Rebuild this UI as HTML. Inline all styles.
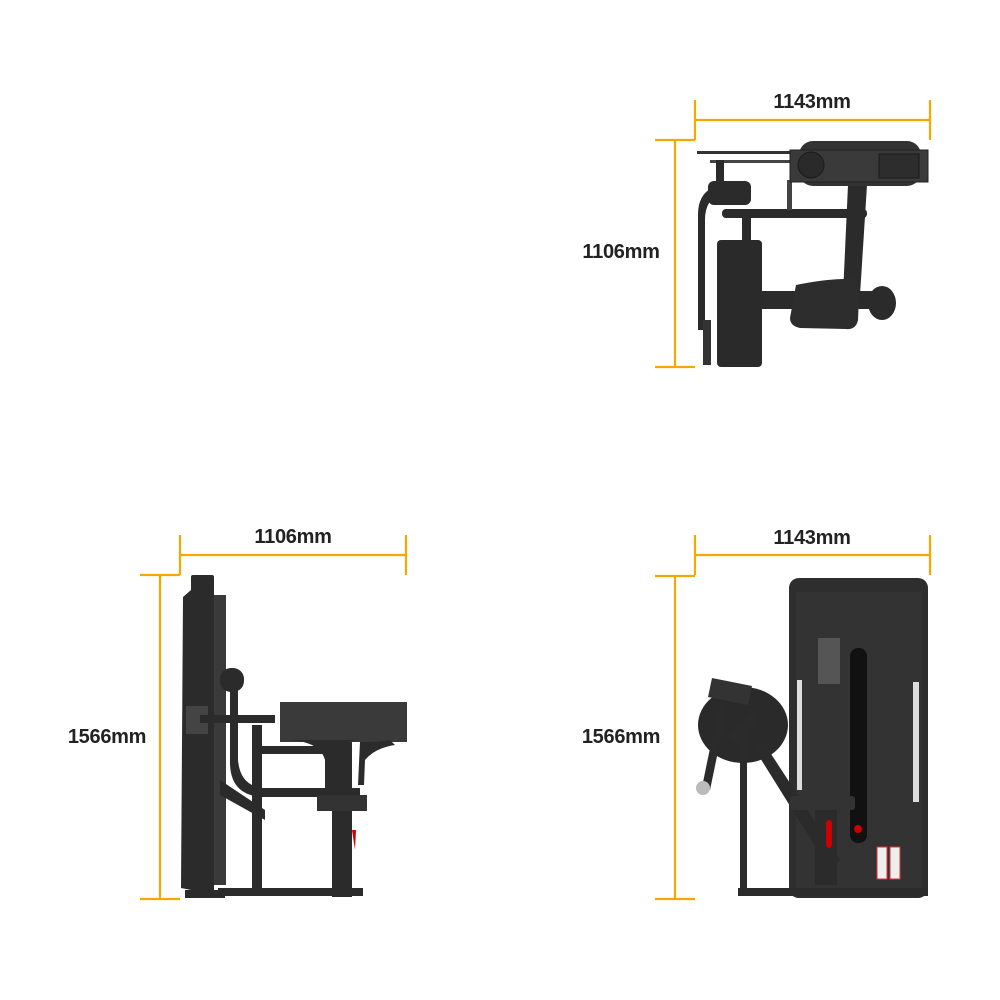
<!DOCTYPE html>
<html><head><style>
html,body{margin:0;padding:0;background:#fff;}
svg{display:block}
text{font-family:"Liberation Sans",sans-serif;font-size:20px;font-weight:bold;fill:#222;letter-spacing:-0.3px;}
</style></head><body>
<svg width="1000" height="1000" viewBox="0 0 1000 1000" xmlns="http://www.w3.org/2000/svg">
<g stroke="#F5A800" stroke-width="2.2" fill="none">
<line x1="695" y1="100" x2="695" y2="140"/><line x1="930" y1="100" x2="930" y2="140"/>
<line x1="695" y1="120" x2="930" y2="120"/>
<line x1="655" y1="140" x2="695" y2="140"/><line x1="655" y1="367" x2="695" y2="367"/>
<line x1="675" y1="140" x2="675" y2="367"/>
<line x1="180" y1="535" x2="180" y2="575"/><line x1="406" y1="535" x2="406" y2="575"/>
<line x1="180" y1="555" x2="406" y2="555"/>
<line x1="140" y1="575" x2="180" y2="575"/><line x1="140" y1="899" x2="180" y2="899"/>
<line x1="160" y1="575" x2="160" y2="899"/>
<line x1="695" y1="535" x2="695" y2="575"/><line x1="930" y1="535" x2="930" y2="575"/>
<line x1="695" y1="555" x2="930" y2="555"/>
<line x1="655" y1="576" x2="695" y2="576"/><line x1="655" y1="899" x2="695" y2="899"/>
<line x1="675" y1="576" x2="675" y2="899"/>
</g>
<text x="812" y="108" text-anchor="middle">1143mm</text>
<text x="621" y="258" text-anchor="middle">1106mm</text>
<text x="293" y="543" text-anchor="middle">1106mm</text>
<text x="107" y="743" text-anchor="middle">1566mm</text>
<text x="812" y="544" text-anchor="middle">1143mm</text>
<text x="621" y="743" text-anchor="middle">1566mm</text>

<g fill="#2b2b2b">
<rect x="697" y="151" width="110" height="3" fill="#333"/>
<rect x="710" y="160" width="96" height="3" fill="#444"/>
<rect x="716" y="160" width="8" height="22"/>
<rect x="708" y="181" width="43" height="24" rx="6"/>
<path d="M720 185 Q698 190 698 215 L698 330 L705 330 L705 220 Q705 198 722 195Z"/>
<rect x="703" y="320" width="8" height="45" fill="#333"/>
<rect x="722" y="209" width="145" height="9" rx="4"/>
<rect x="787" y="180" width="5" height="30" fill="#444"/>
<polygon points="848,185 867,185 860,295 843,295"/>
<rect x="799" y="141" width="122" height="45" rx="14" fill="#333"/>
<rect x="790" y="150" width="138" height="32" fill="#3a3a3a" stroke="#222"/>
<circle cx="811" cy="165" r="13" fill="#2a2a2a" stroke="#1b1b1b"/>
<rect x="879" y="154" width="40" height="24" fill="#2d2d2d" stroke="#1b1b1b"/>
<rect x="742" y="218" width="9" height="22"/>
<rect x="717" y="240" width="45" height="127" rx="4" fill="#2a2a2a"/>
<rect x="762" y="291" width="120" height="18"/>
<path d="M796 285 Q830 278 855 279 Q860 282 858 320 Q856 330 846 329 L800 328 Q790 326 790 318 Z" fill="#2d2d2d"/>
<ellipse cx="882" cy="303" rx="14" ry="17"/>
</g>

<g fill="#2b2b2b">
<rect x="191" y="575" width="23" height="323" rx="2"/>
<polygon points="183,597 191,590 191,890 181,888"/>
<rect x="214" y="595" width="12" height="290" fill="#3a3a3a"/>
<rect x="186" y="706" width="22" height="28" fill="#444"/>
<rect x="200" y="715" width="75" height="8"/>
<rect x="220" y="668" width="24" height="24" rx="11"/>
<path d="M230 690 L238 690 L238 760 Q240 785 262 788 L360 788 L360 797 L262 797 Q229 795 230 760 Z"/>
<rect x="252" y="725" width="10" height="165"/>
<polygon points="220,780 265,810 265,820 220,795"/>
<rect x="260" y="746" width="80" height="8"/>
<rect x="280" y="702" width="127" height="40" fill="#3a3a3a"/>
<path d="M290 740 Q320 742 325 760 L325 790 L332 790 L332 760 Q340 740 360 740 Z"/>
<path d="M360 742 Q380 742 390 740 L395 745 Q375 748 365 760 L364 785 L358 785 Z"/>
<rect x="332" y="742" width="20" height="155"/>
<rect x="317" y="795" width="50" height="16" fill="#333"/>
<polygon points="352,830 356,830 355,850" fill="#c00"/>
<rect x="218" y="888" width="145" height="8"/>
<rect x="185" y="890" width="40" height="8"/>
</g>

<g fill="#2b2b2b">
<rect x="789" y="578" width="139" height="320" rx="10" fill="#2e2e2e"/>
<rect x="796" y="592" width="126" height="300" fill="#333"/>
<rect x="797" y="680" width="5" height="110" fill="#ddd"/>
<rect x="913" y="682" width="6" height="120" fill="#ddd"/>
<rect x="818" y="638" width="22" height="46" fill="#555"/>
<rect x="850" y="648" width="17" height="195" rx="8" fill="#111"/>
<rect x="877" y="847" width="10" height="32" fill="#eee" stroke="#d33"/>
<rect x="890" y="847" width="10" height="32" fill="#eee" stroke="#d33"/>
<ellipse cx="743" cy="725" rx="45" ry="38" fill="#2a2a2a"/>
<polygon points="712,678 752,686 748,705 708,697" fill="#333"/>
<polygon points="720,700 728,703 710,790 702,787"/>
<circle cx="703" cy="788" r="7" fill="#bbb"/>
<polygon points="728,735 752,712 760,722 738,745"/>
<rect x="740" y="740" width="7" height="155"/>
<polygon points="752,745 762,740 840,860 830,870"/>
<rect x="790" y="796" width="65" height="14" rx="3" fill="#333"/>
<rect x="815" y="810" width="22" height="75"/>
<rect x="826" y="820" width="6" height="28" rx="3" fill="#c00"/>
<circle cx="858" cy="829" r="4" fill="#c00"/>
<rect x="738" y="888" width="190" height="8"/>
</g>
</svg>
</body></html>
